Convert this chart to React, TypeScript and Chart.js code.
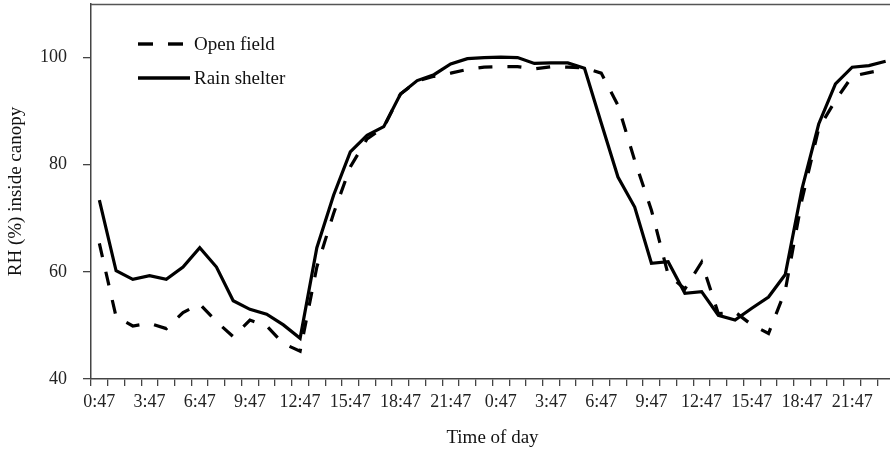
import { useEffect, useRef } from "react";
import { Chart, registerables } from "chart.js";

Chart.register(...registerables);

const timeLabels: string[] = [
  "0:47", "1:47", "2:47", "3:47", "4:47", "5:47", "6:47", "7:47", "8:47", "9:47", "10:47", "11:47",
  "12:47", "13:47", "14:47", "15:47", "16:47", "17:47", "18:47", "19:47", "20:47", "21:47", "22:47", "23:47",
  "0:47", "1:47", "2:47", "3:47", "4:47", "5:47", "6:47", "7:47", "8:47", "9:47", "10:47", "11:47",
  "12:47", "13:47", "14:47", "15:47", "16:47", "17:47", "18:47", "19:47", "20:47", "21:47", "22:47", "23:47",
];

const openField: number[] = [
  65.3, 51.6, 49.9, 50.4, 49.4, 52.4, 54.0, 50.7, 47.9, 51.0, 49.9, 46.6,
  45.2, 60.9, 70.9, 79.6, 84.8, 87.0, 93.2, 95.6, 96.5, 97.1, 97.8, 98.2,
  98.3, 98.3, 97.9, 98.3, 98.2, 98.1, 97.1, 91.1, 80.8, 71.5, 59.5, 56.8,
  61.8, 52.2, 52.5, 50.1, 48.5, 56.5, 73.5, 86.8, 92.0, 96.5, 97.2, 97.8,
];

const rainShelter: number[] = [
  73.4, 60.2, 58.6, 59.3, 58.6, 60.9, 64.5, 60.9, 54.6, 53.0, 52.1, 50.1,
  47.6, 64.5, 74.3, 82.4, 85.5, 87.1, 93.2, 95.7, 96.8, 98.8, 99.8, 100.0,
  100.1, 100.0, 98.9, 99.0, 99.0, 98.0, 87.8, 77.7, 72.1, 61.6, 61.9, 56.0,
  56.3, 51.9, 51.0, 53.2, 55.3, 59.5, 75.5, 87.6, 95.1, 98.2, 98.5, 99.3,
];

const seriesNames: string[] = ["Open field", "Rain shelter"];
const yMin = 40;
const yMax = 110;
const yStep = 20;

const FONT = "'Liberation Serif', 'Times New Roman', serif";

const frameAndLegend = {
  id: "frameAndLegend",
  afterDatasetsDraw(chart: any) {
    const { ctx, chartArea: a } = chart;
    ctx.save();
    // top frame line
    ctx.beginPath();
    ctx.strokeStyle = "#555";
    ctx.lineWidth = 1.3;
    ctx.moveTo(a.left, a.top + 0.5);
    ctx.lineTo(a.right, a.top + 0.5);
    ctx.stroke();

    // inline legend
    const dsets = chart.data.datasets;
    dsets.forEach((ds: any, i: number) => {
      const y = a.top + 40 + i * 34;
      const x0 = a.left + 47;
      ctx.beginPath();
      ctx.strokeStyle = "#000";
      ctx.lineWidth = 3.4;
      ctx.setLineDash(i === 0 ? [15, 15] : []);
      ctx.moveTo(x0, y);
      ctx.lineTo(x0 + (i === 0 ? 47 : 52), y);
      ctx.stroke();
      ctx.setLineDash([]);
      ctx.font = "19px " + FONT;
      ctx.fillStyle = "#111";
      ctx.textBaseline = "middle";
      ctx.textAlign = "left";
      ctx.fillText(ds.label, a.left + 103, y + 1.5);
    });
    ctx.restore();
  },
};

export default function App() {
  const ref = useRef<HTMLCanvasElement | null>(null);

  useEffect(() => {
    if (!ref.current) return;
    const chart = new Chart(ref.current, {
      type: "line",
      data: {
        labels: timeLabels,
        datasets: [
          {
            label: seriesNames[0],
            data: openField,
            borderColor: "#000",
            borderWidth: 3.2,
            borderDash: [14, 15],
            pointRadius: 0,
            tension: 0,
            fill: false,
          },
          {
            label: seriesNames[1],
            data: rainShelter,
            borderColor: "#000",
            borderWidth: 3.2,
            pointRadius: 0,
            tension: 0,
            fill: false,
          },
        ],
      },
      options: {
        responsive: false,
        animation: false,
        layout: { padding: { top: 4, left: 0, right: 0, bottom: 0 } },
        plugins: {
          legend: { display: false },
          tooltip: { enabled: false },
        },
        scales: {
          x: {
            type: "category",
            offset: true,
            grid: {
              offset: true,
              drawOnChartArea: false,
              drawTicks: true,
              tickLength: 7,
              color: "#444",
              lineWidth: 1.3,
            },
            border: { display: true, color: "#444", width: 1.5 },
            ticks: {
              autoSkip: false,
              maxRotation: 0,
              minRotation: 0,
              padding: 5,
              color: "#222",
              font: { family: FONT, size: 18 },
              callback: (_v: any, i: number) => (i % 3 === 0 ? timeLabels[i] : ""),
            },
            title: {
              display: true,
              text: "Time of day",
              color: "#111",
              font: { family: FONT, size: 19 },
              padding: { top: 0, bottom: 0 },
            },
            afterFit: (s: any) => {
              s.height = 70;
              s.paddingLeft = 0;
              s.paddingRight = 0;
            },
          },
          y: {
            min: yMin,
            max: yMax,
            grid: {
              drawOnChartArea: false,
              drawTicks: true,
              tickLength: 8,
              color: "#444",
              lineWidth: 1.3,
            },
            border: { display: true, color: "#444", width: 1.5 },
            ticks: {
              stepSize: yStep,
              includeBounds: false,
              padding: 16,
              color: "#222",
              font: { family: FONT, size: 18 },
            },
            title: {
              display: true,
              text: "RH (%) inside canopy",
              color: "#111",
              font: { family: FONT, size: 19 },
              padding: { top: 5, bottom: 0 },
            },
            afterFit: (s: any) => {
              s.width = 91;
              s.paddingTop = 0;
              s.paddingBottom = 0;
            },
          },
        },
      },
      plugins: [frameAndLegend],
    });
    return () => chart.destroy();
  }, []);

  return (
    <div style={{ position: "absolute", left: 0, top: 0, width: 890, height: 449, overflow: "hidden", background: "#fff" }}>
      <canvas ref={ref} width={894} height={449} style={{ display: "block" }} />
    </div>
  );
}
